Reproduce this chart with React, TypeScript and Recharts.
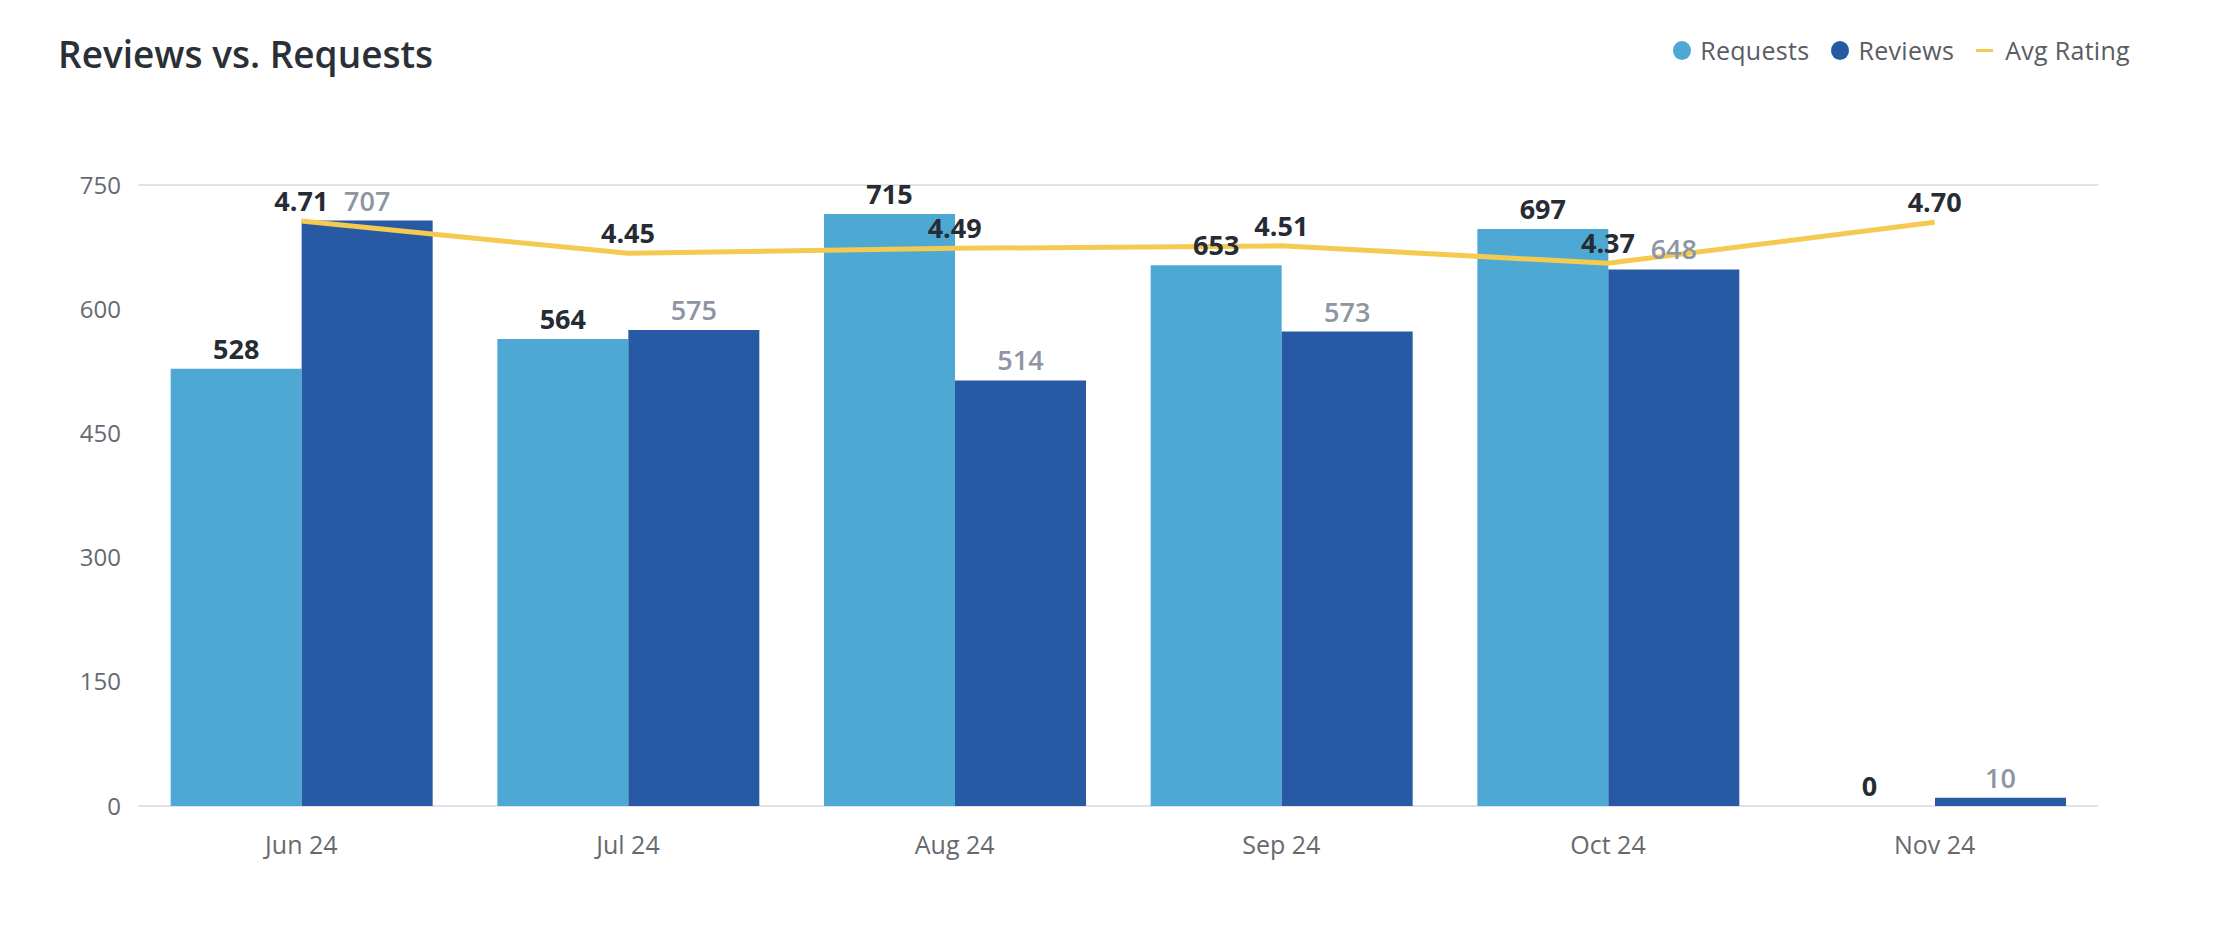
import React from "react";
import {
  ComposedChart,
  Bar,
  Line,
  XAxis,
  YAxis,
  CartesianGrid,
  LabelList,
} from "recharts";

const months = ["Jun 24", "Jul 24", "Aug 24", "Sep 24", "Oct 24", "Nov 24"];
const requests = [528, 564, 715, 653, 697, 0];
const reviews = [707, 575, 514, 573, 648, 10];
const avgRating = [4.71, 4.45, 4.49, 4.51, 4.37, 4.7];
const yTicks = [0, 150, 300, 450, 600, 750];

const data = months.map((m, i) => ({
  month: m,
  requests: requests[i],
  reviews: reviews[i],
  rating: avgRating[i],
}));

const FONT = "'Open Sans', Lato, sans-serif";
const C_REQ = "#4DA9D3";
const C_REV = "#2759A5";
const C_AVG = "#F4CB50";
const DARK = "#272B33";
const GREY_LBL = "#8E95A2";
const AXIS_TXT = "#666A70";

const legendItems = [
  { name: "Requests", color: C_REQ, type: "circle" },
  { name: "Reviews", color: C_REV, type: "circle" },
  { name: "Avg Rating", color: C_AVG, type: "line" },
];

export default function App() {
  return (
    <div
      style={{
        position: "absolute",
        left: 0,
        top: 0,
        width: 2234,
        height: 937,
        background: "#fff",
        fontFamily: FONT,
      }}
    >
      <div
        style={{
          position: "absolute",
          left: 58,
          top: 29,
          fontSize: 37,
          fontWeight: 600,
          color: "#2A2F38",
          lineHeight: "50px",
          whiteSpace: "nowrap",
        }}
      >
        Reviews vs. Requests
      </div>
      <div
        style={{
          position: "absolute",
          right: 104,
          top: 34,
          display: "flex",
          alignItems: "center",
          fontSize: 25,
          color: "#595C63",
          whiteSpace: "nowrap",
        }}
      >
        {legendItems.map((it, i) => (
          <div
            key={it.name}
            style={{
              display: "flex",
              alignItems: "center",
              marginLeft: i === 0 ? 0 : 22,
            }}
          >
            {it.type === "circle" ? (
              <span
                style={{
                  display: "inline-block",
                  width: 18,
                  height: 19,
                  borderRadius: "50%",
                  background: it.color,
                  marginRight: 9,
                }}
              />
            ) : (
              <span
                style={{
                  display: "inline-block",
                  width: 17,
                  height: 3,
                  background: it.color,
                  marginRight: 12,
                }}
              />
            )}
            <span style={{ lineHeight: "32px", letterSpacing: 0.3 }}>
              {it.name}
            </span>
          </div>
        ))}
      </div>
      <ComposedChart
        width={2234}
        height={937}
        data={data}
        margin={{ top: 185, right: 136, bottom: 71, left: 58 }}
        barCategoryGap="10%"
        barGap={0}
        style={{ fontFamily: FONT }}
      >
        <CartesianGrid vertical={false} stroke="#E1E1E8" strokeWidth={2} />
        <XAxis
          dataKey="month"
          axisLine={false}
          tickLine={false}
          tickSize={0}
          tickMargin={30}
          height={60}
          tick={{ fill: AXIS_TXT, fontSize: 25, fontFamily: FONT }}
        />
        <YAxis
          yAxisId="left"
          width={80}
          domain={[0, 750]}
          ticks={yTicks}
          axisLine={false}
          tickLine={false}
          tickSize={0}
          tickMargin={17}
          tick={{ fill: AXIS_TXT, fontSize: 24, fontFamily: FONT }}
        />
        <YAxis yAxisId="right" orientation="right" domain={[0, 5]} hide />
        <Bar
          yAxisId="left"
          dataKey="requests"
          fill={C_REQ}
          minPointSize={0.01}
          isAnimationActive={false}
        >
          <LabelList
            dataKey="requests"
            position="top"
            offset={10}
            fill={DARK}
            fontSize={27}
            fontWeight={700}
            fontFamily={FONT}
            formatter={(v: any) => String(v)}
          />
        </Bar>
        <Bar
          yAxisId="left"
          dataKey="reviews"
          fill={C_REV}
          isAnimationActive={false}
        >
          <LabelList
            dataKey="reviews"
            position="top"
            offset={10}
            fill={GREY_LBL}
            fontSize={27}
            fontWeight={600}
            fontFamily={FONT}
            formatter={(v: any) => String(v)}
          />
        </Bar>
        <Line
          yAxisId="right"
          dataKey="rating"
          type="linear"
          stroke={C_AVG}
          strokeWidth={5}
          dot={false}
          activeDot={false}
          isAnimationActive={false}
        >
          <LabelList
            dataKey="rating"
            position="top"
            offset={10}
            fill={DARK}
            fontSize={27}
            fontWeight={700}
            fontFamily={FONT}
            formatter={(v: any) => Number(v).toFixed(2)}
          />
        </Line>
      </ComposedChart>
    </div>
  );
}
